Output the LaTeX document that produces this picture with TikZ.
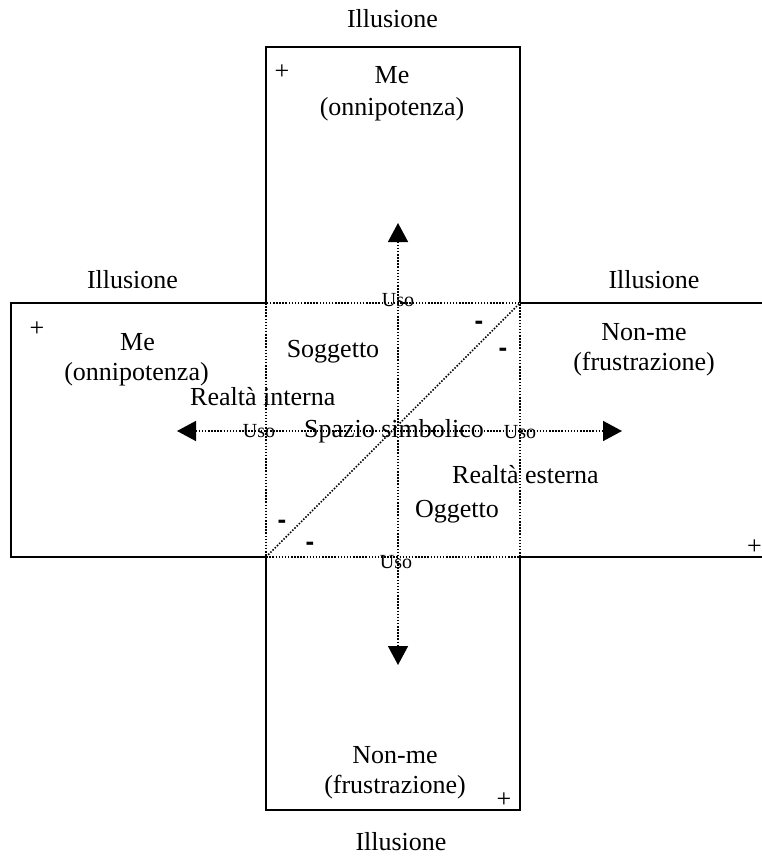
\documentclass[tikz,border=0pt]{standalone}
\usepackage{fontspec}
\setmainfont{Liberation Serif}
\newfontfamily\dashfont{Liberation Sans}
\usetikzlibrary{arrows.meta}
\begin{document}
\begin{tikzpicture}[x=1pt,y=-1pt,
  lbl/.style={anchor=base,inner sep=0pt,font=\fontsize{26}{31}\selectfont},
  lblw/.style={anchor=base west,inner sep=0pt,font=\fontsize{26}{31}\selectfont},
  uso/.style={anchor=base,inner sep=0pt,font=\fontsize{20}{24}\selectfont},
  minus/.style={anchor=base,inner sep=0pt,font=\dashfont\bfseries\fontsize{26}{31}\selectfont},
  boxline/.style={line width=1.6pt},
  dotline/.style={line width=1.5pt,dash pattern=on 1.5pt off 1.6pt},
  arr/.style={dotline,{Triangle[length=19pt,width=20pt]}-{Triangle[length=19pt,width=20pt]}}]
\useasboundingbox (0,0) rectangle (762,859);
% corners of the central square
\coordinate (A) at (266,303);
\coordinate (B) at (520,303);
\coordinate (C) at (520,557);
\coordinate (D) at (266,557);
% boxes
\draw[boxline] (A) -- (266,47) -- (520,47) -- (B);
\draw[boxline] (A) -- (11,303) -- (11,557) -- (D);
\draw[boxline] (B) -- (770,303);
\draw[boxline] (C) -- (770,557);
\draw[boxline] (D) -- (266,810) -- (520,810) -- (C);
% dotted square and diagonal
\draw[dotline] (A) rectangle (C);
\draw[dotline] (D) -- (B);
% arrows
\coordinate (up) at (398,223);
\coordinate (down) at (398,665);
\coordinate (left) at (177,431);
\coordinate (right) at (622,431);
\draw[arr] (up) -- (down);
\draw[arr] (left) -- (right);
% labels
\node[lbl] (ill1) at (392.5,28) {Illusione};
\node[lbl] (ill2) at (132.5,288) {Illusione};
\node[lbl] (ill3) at (654,288) {Illusione};
\node[lbl] (ill4) at (401,850) {Illusione};
\node[lbl] (me1) at (392,83) {Me};
\node[lbl] (onn1) at (392,115) {(onnipotenza)};
\node[lbl] (me2) at (137.5,350) {Me};
\node[lbl] (onn2) at (136.5,380) {(onnipotenza)};
\node[lbl] (nm1) at (644,340) {Non-me};
\node[lbl] (fr1) at (644,370) {(frustrazione)};
\node[lbl] (nm2) at (395,763) {Non-me};
\node[lbl] (fr2) at (395,793) {(frustrazione)};
\node[lbl] (sogg) at (333,357) {Soggetto};
\node[lblw] (rint) at (190,405) {Realtà interna};
\node[lbl] (spazio) at (394,437) {Spazio simbolico};
\node[lblw] (rest) at (452,483) {Realtà esterna};
\node[lbl] (ogg) at (457,517) {Oggetto};
\node[uso] (uso1) at (398,306) {Uso};
\node[uso] (uso2) at (259,437) {Uso};
\node[uso] (uso3) at (520,438) {Uso};
\node[uso] (uso4) at (396,568) {Uso};
\node[lbl] (p1) at (282,80) {+};
\node[lbl] (p2) at (37,336) {+};
\node[lbl] (p3) at (504,807) {+};
\node[lbl] (p4) at (754.5,554) {+};
\node[minus] (m1) at (479,329) {-};
\node[minus] (m2) at (503,356) {-};
\node[minus] (m3) at (282,528) {-};
\node[minus] (m4) at (310,550) {-};
\end{tikzpicture}
\end{document}
